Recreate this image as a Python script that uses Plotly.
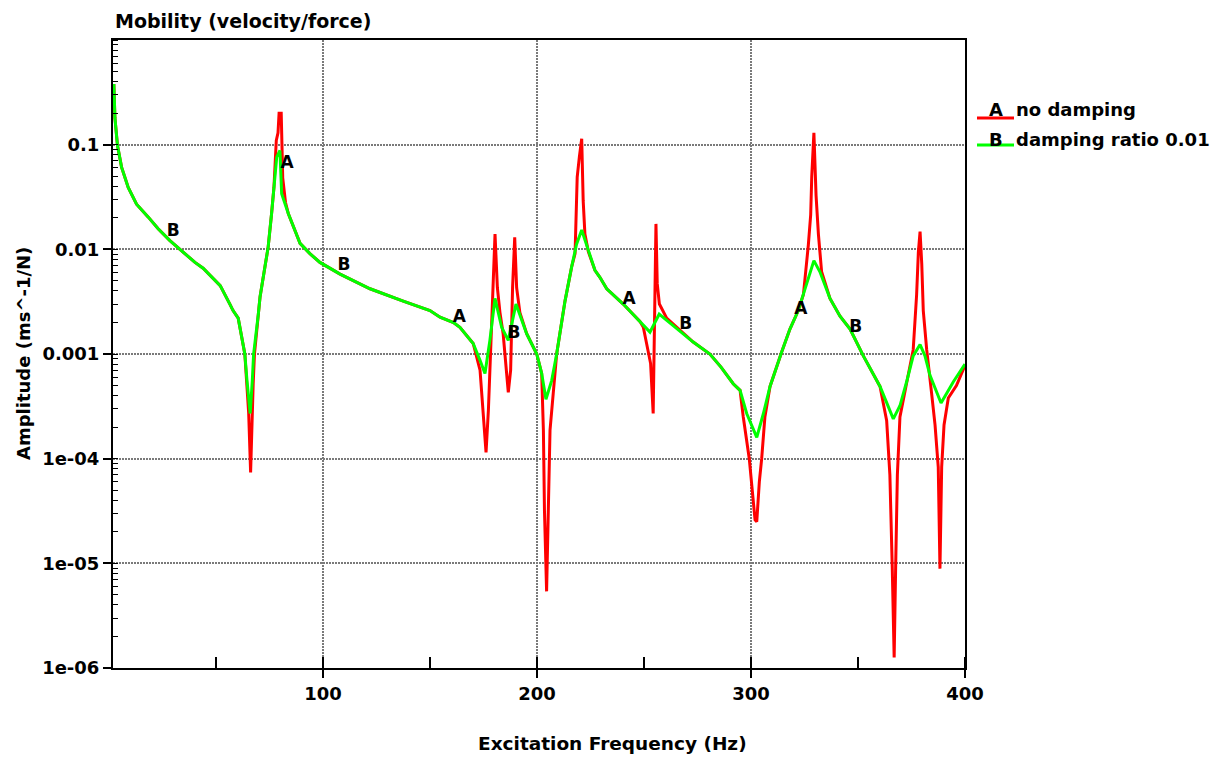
import plotly.graph_objects as go

# ---------------- data ----------------
freq_no_damping = [2.3, 2.8, 4.0, 5.9, 9.0, 12.9, 18.4, 23.0, 28.5, 34.0, 40.2, 44.0, 48.0, 52.0,
                   56.5, 58.0, 60.4, 62.0, 63.5, 64.3, 65.3, 66.2, 66.8, 67.4, 68.0, 69.8, 70.6,
                   72.9, 74.4, 76.0, 77.1, 78.2, 79.0, 79.5, 80.5, 81.2, 82.5, 83.8, 89.3, 93.9,
                   98.6, 108.0, 122.0, 137.5, 150.0, 154.7, 161.0, 164.0, 170.2, 173.4, 174.9,
                   176.2, 177.3, 178.0, 179.3, 180.4, 181.5, 182.7, 184.2, 185.5, 186.6, 187.7,
                   188.6, 189.6, 190.5, 192.0, 195.2, 199.9, 202.2, 203.0, 203.5, 204.5, 205.3,
                   206.1, 207.6, 209.2, 213.1, 216.2, 217.8, 218.8, 219.8, 220.9, 221.6, 222.4,
                   224.0, 227.1, 229.4, 232.6, 240.3, 244.0, 248.1, 249.7, 252.0, 253.1, 254.3,
                   255.6, 256.2, 257.2, 260.6, 266.8, 273.0, 280.8, 286.0, 291.7, 294.9, 296.4,
                   299.2, 301.9, 302.7, 303.9, 305.0, 306.5, 308.9, 314.3, 318.2, 322.1, 324.5,
                   326.8, 327.9, 328.4, 329.4, 330.4, 331.5, 333.0, 336.9, 341.6, 346.3, 352.5,
                   360.3, 363.4, 364.9, 366.0, 366.9, 367.6, 368.4, 369.6, 371.0, 372.7, 375.8,
                   377.4, 378.2, 379.0, 379.8, 380.5, 382.1, 384.4, 386.0, 387.5, 388.3, 389.1,
                   390.2, 392.2, 396.0, 400.0]
amp_no_damping = [0.38, 0.18, 0.098, 0.061, 0.039, 0.027, 0.0203, 0.0157, 0.0121, 0.0097, 0.0075,
                  0.0066, 0.0055, 0.0045, 0.0030, 0.0026, 0.0022, 0.00145, 0.0010, 0.00056,
                  0.00027, 0.000074, 0.00027, 0.00052, 0.0010, 0.0024, 0.0035, 0.0068, 0.0105,
                  0.022, 0.039, 0.11, 0.13, 0.20, 0.20, 0.048, 0.028, 0.022, 0.0114, 0.0091,
                  0.0075, 0.0058, 0.0042, 0.0032, 0.0026, 0.00225, 0.0020, 0.0018, 0.00126,
                  0.0007, 0.00029, 0.000115, 0.00029, 0.00075, 0.0043, 0.014, 0.0043, 0.0025,
                  0.00156, 0.0007, 0.00043, 0.0007, 0.0043, 0.013, 0.0043, 0.0025, 0.00156,
                  0.0010, 0.00065, 0.000187, 0.000032, 0.0000054, 0.000032, 0.000187, 0.00042,
                  0.0010, 0.0032, 0.0068, 0.0091, 0.049, 0.076, 0.114, 0.029, 0.014, 0.0095,
                  0.0063, 0.0054, 0.0042, 0.0030, 0.0025, 0.00205, 0.0018, 0.00108, 0.00081,
                  0.00027, 0.0175, 0.0047, 0.0030, 0.0022, 0.00168, 0.0013, 0.0010, 0.00075,
                  0.00052, 0.00045, 0.00025, 0.0001, 0.000026, 0.000025, 0.00006, 0.0001,
                  0.00025, 0.00049, 0.00104, 0.00173, 0.0026, 0.0037, 0.011, 0.0214, 0.05, 0.13,
                  0.033, 0.014, 0.0061, 0.0034, 0.0023, 0.00173, 0.00096, 0.00049, 0.00023,
                  0.00007, 0.0000093, 0.00000126, 0.0000093, 0.00007, 0.00025, 0.00035, 0.00054,
                  0.0011, 0.0037, 0.0093, 0.0148, 0.0072, 0.0026, 0.0011, 0.00042, 0.00021,
                  0.000083, 0.0000089, 0.000083, 0.00021, 0.00038, 0.0005, 0.00078]

freq_damped = [2.3, 2.8, 4.0, 5.9, 9.0, 12.9, 18.4, 23.0, 28.5, 34.0, 40.2, 44.0, 48.0, 52.0,
               56.5, 58.0, 60.4, 62.0, 63.5, 64.5, 66.0, 67.0, 67.6, 69.8, 70.6, 72.9, 74.4,
               76.0, 77.1, 78.4, 79.9, 80.7, 83.8, 89.3, 93.9, 98.6, 108.0, 122.0, 137.5,
               150.0, 154.7, 161.0, 164.0, 170.2, 173.4, 175.7, 178.0, 180.4, 183.5, 186.6,
               190.2, 195.2, 199.9, 202.2, 204.2, 206.9, 209.2, 213.1, 216.2, 218.5, 220.9,
               223.2, 227.1, 229.4, 232.6, 240.3, 244.0, 248.1, 252.8, 257.1, 260.6, 266.8,
               273.0, 280.8, 286.0, 291.7, 294.9, 298.0, 302.7, 305.8, 308.9, 314.3, 318.2,
               322.1, 326.0, 329.4, 332.2, 336.9, 341.6, 346.3, 352.5, 360.3, 366.5, 369.6,
               372.7, 375.8, 379.0, 381.3, 383.6, 388.8, 391.4, 394.5, 400.0]
amp_damped = [0.38, 0.18, 0.098, 0.061, 0.039, 0.027, 0.0203, 0.0157, 0.0121, 0.0097, 0.0075,
              0.0066, 0.0055, 0.0045, 0.0030, 0.0026, 0.0022, 0.00145, 0.0010, 0.00056, 0.00027,
              0.00056, 0.0010, 0.0024, 0.0035, 0.0068, 0.0105, 0.022, 0.039, 0.076, 0.088,
              0.034, 0.022, 0.0114, 0.0091, 0.0075, 0.0058, 0.0042, 0.0032, 0.0026, 0.00225,
              0.0020, 0.0018, 0.00126, 0.00087, 0.00065, 0.00135, 0.0034, 0.0018, 0.00135,
              0.0030, 0.00156, 0.0010, 0.00065, 0.00037, 0.00056, 0.0010, 0.0032, 0.0068,
              0.0112, 0.0153, 0.0112, 0.0063, 0.0054, 0.0042, 0.0030, 0.0025, 0.00205, 0.00162,
              0.0024, 0.0021, 0.00168, 0.0013, 0.0010, 0.00075, 0.00052, 0.00045, 0.00027,
              0.00016, 0.00027, 0.00049, 0.00104, 0.00173, 0.0026, 0.0048, 0.0078, 0.0061,
              0.0034, 0.0023, 0.00173, 0.00096, 0.00049, 0.00024, 0.00032, 0.00054, 0.00096,
              0.00123, 0.00096, 0.00063, 0.00034, 0.00042, 0.00054, 0.00080]

# curve identification letters placed along the curves
label_text = ["B", "A", "B", "A", "B", "A", "B", "A", "B"]
label_freq = [30.0, 83.3, 109.8, 163.7, 189.3, 243.1, 269.5, 323.3, 348.9]
label_amp = [0.0146, 0.0655, 0.0070, 0.00222, 0.00156, 0.0033, 0.00191, 0.00263, 0.0018]

series_names = ["no damping", "damping ratio 0.01"]
series_letters = ["A", "B"]
series_colors = ["#ff0000", "#00ff00"]

y_tickvals = [1e-6, 1e-5, 1e-4, 1e-3, 1e-2, 1e-1]
y_ticktext = ["1e-06", "1e-05", "1e-04", "0.001", "0.01", "0.1"]
x_tickvals = [100, 200, 300, 400]
x_ticktext = ["100", "200", "300", "400"]

# ---------------- layout geometry (pixels) ----------------
W, H = 1225, 762
L, R, T, B = 113, 965, 40, 668
FONT = dict(family="DejaVu Sans", size=18, color="black", weight="bold")
TITLE_FONT = dict(family="DejaVu Sans", size=19, color="black", weight="bold")


def px_x(p):
    return (p - L) / (R - L)


def px_y(p):
    return (B - p) / (B - T)


fig = go.Figure()
fig.add_trace(go.Scatter(x=freq_no_damping, y=amp_no_damping, mode="lines",
                         line=dict(color=series_colors[0], width=3), name=series_names[0],
                         showlegend=False, hoverinfo="skip"))
fig.add_trace(go.Scatter(x=freq_damped, y=amp_damped, mode="lines",
                         line=dict(color=series_colors[1], width=3), name=series_names[1],
                         showlegend=False, hoverinfo="skip"))
fig.add_trace(go.Scatter(x=label_freq, y=label_amp, mode="text", text=label_text,
                         textfont=dict(family="DejaVu Sans", size=17, color="black", weight="bold"),
                         textposition="middle center", showlegend=False, hoverinfo="skip"))

annotations = [
    dict(text="Mobility (velocity/force)", xref="paper", yref="paper", x=0, y=1,
         xanchor="left", yanchor="middle", yshift=19, showarrow=False, font=TITLE_FONT),
    dict(text="Excitation Frequency (Hz)", xref="paper", yref="paper", x=px_x(612.5), y=0,
         xanchor="center", yanchor="middle", yshift=-75, showarrow=False,
         font=dict(FONT, size=18.5)),
    dict(text="Amplitude (ms^-1/N)", xref="paper", yref="paper", x=0, y=0.5, textangle=-90,
         xanchor="center", yanchor="middle", xshift=-(L - 23), showarrow=False, font=FONT),
]
shapes = []
legend_rows = [110, 139]
legend_lines = [118, 145]
for i in range(2):
    shapes.append(dict(type="line", xref="paper", yref="paper",
                       x0=px_x(977), x1=px_x(1014), y0=px_y(legend_lines[i]), y1=px_y(legend_lines[i]),
                       line=dict(color=series_colors[i], width=3)))
    annotations.append(dict(text=series_letters[i], xref="paper", yref="paper",
                            x=px_x(996), y=px_y(legend_rows[i]), xanchor="center", yanchor="middle",
                            showarrow=False, font=FONT))
    annotations.append(dict(text=series_names[i], xref="paper", yref="paper",
                            x=px_x(1014), y=px_y(legend_rows[i]), xanchor="left", yanchor="middle",
                            showarrow=False, font=FONT))

grid = dict(gridcolor="#7a7a7a", gridwidth=2, griddash="2px,1px")

fig.update_layout(
    width=W, height=H,
    margin=dict(l=L, r=W - R, t=T, b=H - B, pad=0),
    paper_bgcolor="white", plot_bgcolor="white",
    font=FONT,
    annotations=annotations, shapes=shapes,
    xaxis=dict(range=[1.9, 400], tickmode="array", tickvals=x_tickvals, ticktext=x_ticktext,
               ticks="outside", ticklen=8, tickwidth=2, tickcolor="black",
               showline=True, linecolor="black", linewidth=2, mirror=True,
               showgrid=True, zeroline=False,
               minor=dict(ticks="inside", ticklen=11, tickwidth=2, tickcolor="black",
                          tick0=0, dtick=50, showgrid=False),
               tickfont=FONT, **grid),
    yaxis=dict(type="log", range=[-6, 0], tickmode="array", tickvals=y_tickvals,
               ticktext=y_ticktext, ticks="outside", ticklen=8, tickwidth=2, tickcolor="black",
               showline=True, linecolor="black", linewidth=2, mirror=True,
               showgrid=True, zeroline=False,
               minor=dict(ticks="inside", ticklen=5, tickwidth=1, tickcolor="black",
                          dtick="D1", showgrid=False),
               tickfont=FONT, **grid),
    yaxis2=dict(type="log", range=[-6, 0], overlaying="y", side="right", anchor="x",
                tickmode="array", tickvals=y_tickvals, ticks="inside", ticklen=8, tickwidth=2,
                tickcolor="black", showticklabels=False, showgrid=False, showline=False,
                zeroline=False),
)

fig.write_html("out.html", config={"displayModeBar": False},
               post_script="document.body.style.margin='0px';")
